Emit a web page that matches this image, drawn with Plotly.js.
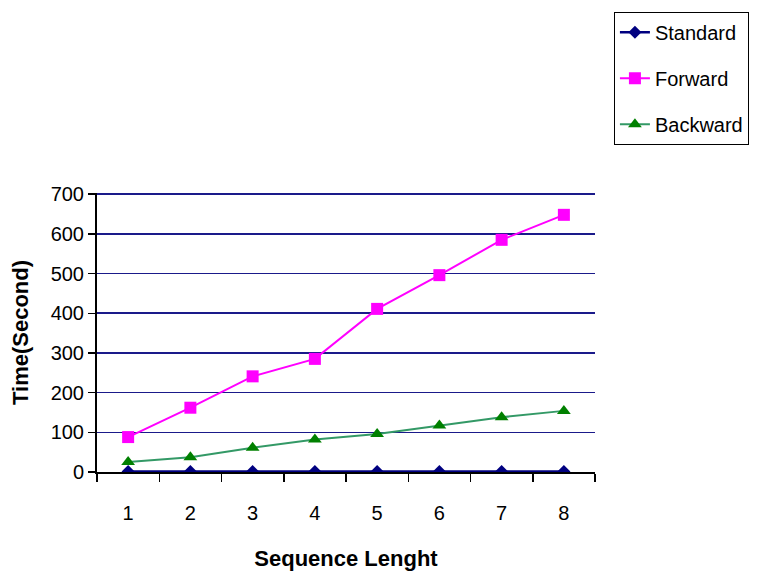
<!DOCTYPE html>
<html>
<head>
<meta charset="utf-8">
<script src="https://cdn.plot.ly/plotly-3.0.1.min.js"></script>
<style>html,body{margin:0;padding:0;background:#fff;}#chart{width:763px;height:578px;}</style>
</head>
<body>
<div id="chart"></div>
<script>
const categories = [1, 2, 3, 4, 5, 6, 7, 8];
const tickLabels = ["1", "2", "3", "4", "5", "6", "7", "8"];
const standard = [1, 1, 1, 1, 1, 1, 1, 1];
const forward = [88, 162, 241, 285, 411, 496, 585, 648];
const backward = [25, 37, 61, 82, 96, 117, 138, 154];

const FONT = "'Liberation Sans', Arial, sans-serif";

const traces = [
  {
    x: categories, y: standard, name: "Standard", type: "scatter", mode: "lines+markers",
    legendgroup: "a",
    line: {color: "#000080", width: 2.5},
    marker: {symbol: "diamond", size: 10, color: "#000080"}
  },
  {
    x: categories, y: forward, name: "Forward", type: "scatter", mode: "lines+markers",
    legendgroup: "b",
    line: {color: "#FF00FF", width: 2},
    marker: {symbol: "square", size: 12, color: "#FF00FF"}
  },
  {
    x: categories, y: backward, name: "Backward", type: "scatter", mode: "lines+markers",
    legendgroup: "c",
    line: {color: "#339966", width: 2},
    marker: {symbol: "triangle-up", size: 12, color: "#008000"}
  }
];

const layout = {
  width: 763, height: 578,
  margin: {l: 97, r: 168, t: 191, b: 106, pad: 0},
  paper_bgcolor: "#ffffff",
  plot_bgcolor: "#ffffff",
  font: {family: FONT, size: 20, color: "#000"},
  showlegend: true,
  legend: {
    x: 1.038, xanchor: "left", y: 1.65, yanchor: "top",
    bordercolor: "#000", borderwidth: 1, bgcolor: "#fff",
    font: {family: FONT, size: 20, color: "#000"},
    tracegroupgap: 17,
    traceorder: "grouped"
  },
  xaxis: {
    range: [0.5, 8.5],
    tickvals: categories, ticktext: tickLabels,
    ticks: "", showgrid: false, zeroline: false,
    showline: true, linecolor: "#000", linewidth: 2,
    layer: "below traces",
    tickfont: {family: FONT, size: 20},
    ticklabelstandoff: 22,
    minor: {tick0: 0.5, dtick: 1, ticks: "outside", ticklen: 8, tickcolor: "#000", tickwidth: 1.5, showgrid: false},
    title: {text: "<b>Sequence Lenght</b>", font: {family: FONT, size: 22}, standoff: 28},
    fixedrange: true
  },
  yaxis: {
    range: [0, 703], tickvals: [0, 100, 200, 300, 400, 500, 600, 700],
    ticks: "outside", ticklen: 7, tickcolor: "#000", tickwidth: 1.5,
    showgrid: true, gridcolor: "#1a1a8a", gridwidth: 1.6,
    zeroline: false,
    showline: true, linecolor: "#000", linewidth: 2,
    layer: "below traces",
    tickfont: {family: FONT, size: 20},
    title: {text: "<b>Time(Second)</b>", font: {family: FONT, size: 22}, standoff: 16},
    fixedrange: true
  }
};

Plotly.newPlot("chart", traces, layout, {displayModeBar: false, staticPlot: true});
</script>
</body>
</html>
